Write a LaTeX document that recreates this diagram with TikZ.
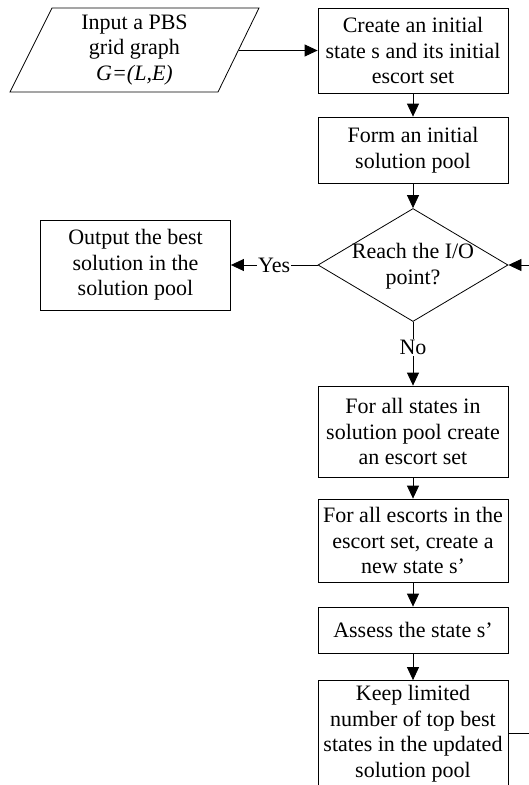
\documentclass[tikz,border=0pt]{standalone}
\usepackage{fontspec}
\setmainfont{Liberation Serif}
\usetikzlibrary{arrows.meta,shapes.geometric}
\begin{document}
\begin{tikzpicture}[x=1pt,y=-1pt,
  every node/.style={font=\fontsize{22}{25.5}\selectfont, align=center, inner sep=2pt},
  box/.style={draw, line width=0.8pt, minimum width=190pt},
  dec/.style={draw, line width=0.8pt, diamond, minimum width=190pt, minimum height=113pt, inner sep=0pt},
  arr/.style={line width=0.8pt, -{Triangle[length=13pt,width=12pt]}},
  lab/.style={fill=white, inner sep=1pt}]
\useasboundingbox (0,0) rectangle (528,785);
% input parallelogram
\draw[line width=0.8pt] (52,8) -- (259,8) -- (218,92) -- (10,92) -- cycle;
\node (in) at (134.5,50) {Input a PBS\\grid graph\\\textit{G=(L,E)}};
\coordinate (inR) at (238.5,50.5);
\node[box, minimum height=85pt] (b1) at (413,50.5) {Create an initial\\state s and its initial\\escort set};
\node[box, minimum height=66pt] (b2) at (413,150) {Form an initial\\solution pool};
\node[dec] (dia) at (413,265) {};
\node (diat) at (413,266) {Reach the I/O\\point?};
\node[box, minimum height=90pt] (out) at (135.5,265) {Output the best\\solution in the\\solution pool};
\node[box, minimum height=91pt] (b3) at (413,431.5) {For all states in\\solution pool create\\an escort set};
\node[box, minimum height=83pt] (b4) at (413,540.5) {For all escorts in the\\escort set, create a\\new state s’};
\node[box, minimum height=46pt] (b5) at (413,630) {Assess the state s’};
\node[box, minimum height=106pt] (b6) at (413,733.5) {Keep limited\\number of top best\\states in the updated\\solution pool};
\coordinate (fb) at (560,733.5);
% connectors
\draw[arr] (inR) -- (b1.west);
\draw[arr] (b1) -- (b2);
\draw[arr] (b2) -- (dia.north);
\draw[arr] (dia.west) -- node[lab]{Yes} (out.east);
\draw[arr] (dia.south) -- node[lab, pos=0.4]{No} (b3.north);
\draw[arr] (b3) -- (b4);
\draw[arr] (b4) -- (b5);
\draw[arr] (b5) -- (b6);
\draw[arr] (b6.east) -- (fb) |- (dia.east);
\end{tikzpicture}
\end{document}
